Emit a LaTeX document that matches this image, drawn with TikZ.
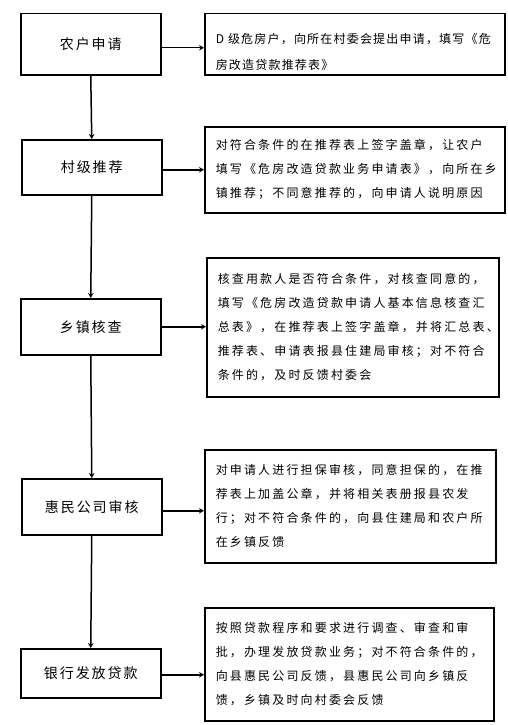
\documentclass[tikz,border=0pt]{standalone}
\usepackage{fontspec}
\newfontfamily\stepfont[LetterSpace=14]{Noto Sans CJK SC}
\newfontfamily\notefont[LetterSpace=18]{Noto Sans CJK SC}
\newfontfamily\tightnotefont[LetterSpace=10]{Noto Sans CJK SC}
\usetikzlibrary{arrows.meta,positioning}
\tikzset{
  basebox/.style={rectangle,draw=black,line width=1.5pt,anchor=north west},
  stepbox/.style={basebox,minimum width=140pt,align=center,inner sep=0pt,
    font=\stepfont\fontsize{14}{16}\selectfont},
  notebox/.style={basebox,align=left,inner xsep=11pt,inner ysep=0pt,
    font=\notefont\fontsize{12}{24}\selectfont},
  arr/.style={-{Stealth[length=5pt,width=5.5pt]},line width=1.5pt}
}

\begin{document}
\begin{tikzpicture}[x=1pt,y=-1pt]
  \useasboundingbox (0,0) rectangle (507,725);

  %% left column: the steps
  \node[stepbox,minimum height=61pt] (apply) at (20,13) {农户申请};
  \node[stepbox,minimum height=55pt] (village) at (21,139) {村级推荐};
  \node[stepbox,minimum height=56pt] (town) at (20,298) {乡镇核查};
  \node[stepbox,minimum height=56pt] (huimin) at (21,478) {惠民公司审核};
  \node[stepbox,minimum height=49pt] (bank) at (20,648) {银行发放贷款};

  %% right column: what each step does
  \node[notebox,minimum width=300pt,minimum height=61pt,text width=278pt,text depth=12pt,
    font=\tightnotefont\fontsize{12}{26}\selectfont] (applynote) at (204,13)
    {D 级危房户，向所在村委会提出申请，填写《危\\房改造贷款推荐表》};
  \node[notebox,minimum width=300pt,minimum height=86pt,text width=278pt] (villagenote) at (204,126)
    {对符合条件的在推荐表上签字盖章，让农户\\填写《危房改造贷款业务申请表》，向所在乡\\镇推荐；不同意推荐的，向申请人说明原因};
  \node[notebox,minimum width=292pt,minimum height=139pt,text width=270pt] (townnote) at (206,257)
    {核查用款人是否符合条件，对核查同意的，\\填写《危房改造贷款申请人基本信息核查汇\\总表》，在推荐表上签字盖章，并将汇总表、\\推荐表、申请表报县住建局审核；对不符合\\条件的，及时反馈村委会};
  \node[notebox,minimum width=291pt,minimum height=113pt,text width=269pt] (huiminnote) at (204,449)
    {对申请人进行担保审核，同意担保的，在推\\荐表上加盖公章，并将相关表册报县农发\\行；对不符合条件的，向县住建局和农户所\\在乡镇反馈};
  \node[notebox,minimum width=289pt,minimum height=113pt,text width=267pt] (banknote) at (204,607)
    {按照贷款程序和要求进行调查、审查和审\\批，办理发放贷款业务；对不符合条件的，\\向县惠民公司反馈，县惠民公司向乡镇反\\馈，乡镇及时向村委会反馈};

  \draw[arr] (apply.south) -- (village.north);
  \draw[arr] (village.south) -- (town.north);
  \draw[arr] (town.south) -- (huimin.north);
  \draw[arr] (huimin.south) -- (bank.north);

  \draw[arr] ([yshift=-3.5pt]apply.east) -- ([yshift=-3.5pt]apply.east -| applynote.west);
  \draw[arr] ([yshift=-2.5pt]village.east) -- ([yshift=-2.5pt]village.east -| villagenote.west);
  \draw[arr] (town.east) -- (town.east -| townnote.west);
  \draw[arr] ([yshift=-4pt]huimin.east) -- ([yshift=-4pt]huimin.east -| huiminnote.west);
  \draw[arr] ([yshift=-1.5pt]bank.east) -- ([yshift=-1.5pt]bank.east -| banknote.west);
\end{tikzpicture}
\end{document}
